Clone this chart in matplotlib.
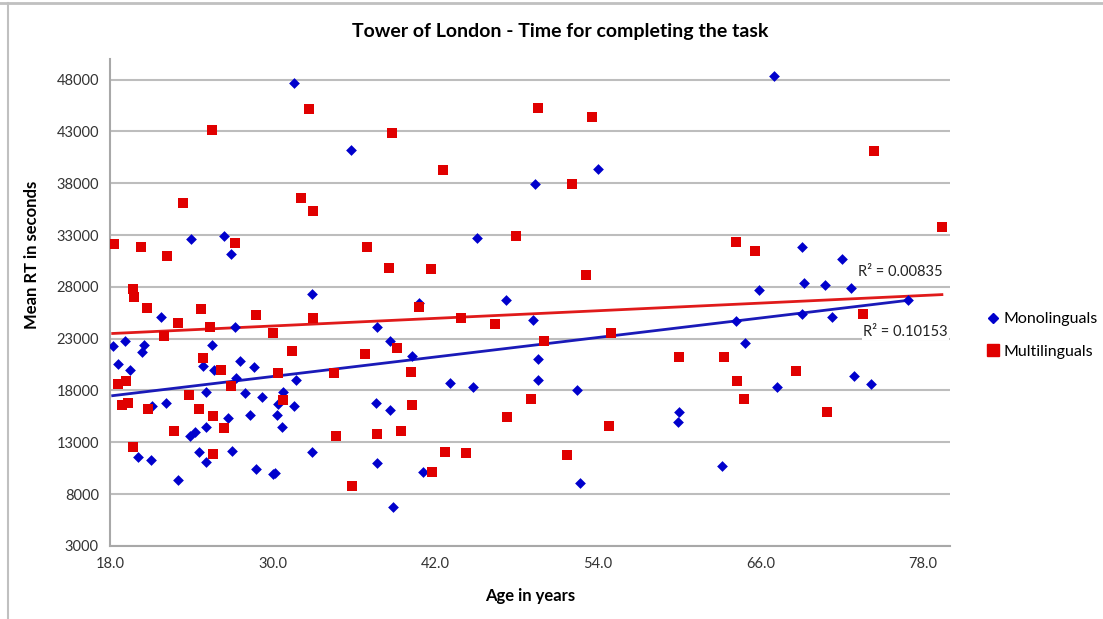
import numpy as np
import matplotlib
matplotlib.use('Agg')
import matplotlib.pyplot as plt
from matplotlib.lines import Line2D

plt.rcParams['font.family'] = ['Lato', 'DejaVu Sans']

# 單語者 (年齡, 平均反應時間)
mono_age = [31.6, 24.0, 26.4, 26.9, 32.9, 21.8, 27.2, 18.2, 19.1, 20.5,
            20.4, 25.5, 24.9, 18.6, 19.5, 25.7, 27.6, 28.6, 31.7, 27.3,
            25.1, 28.0, 29.2, 30.8, 30.4, 21.1, 22.1, 31.6, 26.7, 28.3,
            30.3, 30.7, 25.1, 24.3, 23.9, 20.1, 21.0, 24.6, 25.1, 27.0,
            32.9, 23.0, 28.8, 30.0, 30.2, 35.8, 45.1, 47.2, 40.8, 37.7,
            38.7, 40.3, 43.1, 44.8, 37.6, 38.7, 37.7, 41.1, 38.9, 54.0,
            49.4, 49.2, 49.6, 49.6, 52.5, 60.0, 59.9, 52.7, 63.2, 67.0,
            69.1, 72.0, 65.9, 69.2, 70.8, 72.7, 76.9, 69.1, 64.2, 71.3,
            64.9, 67.2, 72.9, 74.2]
mono_rt = [47700, 32600, 32900, 31200, 27300, 25100, 24100, 22300, 22800, 22400,
           21700, 22400, 20400, 20600, 20000, 20000, 20800, 20300, 19000, 19200,
           17900, 17800, 17400, 17900, 16700, 16500, 16800, 16500, 15300, 15600,
           15600, 14500, 14500, 14000, 13600, 11600, 11300, 12100, 11100, 12200,
           12100, 9400, 10400, 9900, 10000, 41200, 32700, 26700, 26400, 24100,
           22800, 21300, 18700, 18300, 16800, 16100, 11000, 10100, 6800, 39400,
           37900, 24800, 21000, 19000, 18000, 15900, 15000, 9100, 10700, 48300,
           31800, 30700, 27700, 28400, 28200, 27900, 26700, 25400, 24700, 25100,
           22600, 18300, 19400, 18600]

# 多語者 (年齡, 平均反應時間)
multi_age = [32.7, 25.5, 23.4, 32.1, 33.0, 27.2, 18.3, 20.3, 22.2, 19.7,
             19.8, 20.7, 24.7, 28.8, 23.0, 25.4, 33.0, 22.0, 30.0, 31.4,
             24.9, 26.2, 30.4, 18.6, 19.2, 26.9, 23.8, 30.8, 18.9, 19.3,
             20.8, 24.6, 25.6, 26.4, 22.7, 19.7, 25.6, 38.8, 42.6, 48.0,
             37.0, 38.6, 41.7, 40.8, 43.9, 46.4, 39.2, 36.8, 34.5, 40.2,
             40.3, 47.3, 34.7, 37.7, 39.5, 42.7, 44.3, 41.8, 35.9, 49.6,
             53.6, 52.1, 53.1, 50.0, 55.0, 60.0, 63.3, 49.1, 54.8, 51.7,
             74.4, 79.4, 64.2, 65.6, 73.6, 68.6, 64.3, 64.8, 70.9]
multi_rt = [45200, 43100, 36100, 36600, 35300, 32200, 32100, 31800, 31000, 27800,
            27000, 26000, 25900, 25300, 24500, 24100, 25000, 23300, 23500, 21800,
            21100, 20000, 19700, 18600, 18900, 18400, 17600, 17100, 16600, 16800,
            16200, 16200, 15500, 14400, 14100, 12500, 11900, 42800, 39300, 32900,
            31800, 29800, 29700, 26100, 25000, 24400, 22100, 21500, 19700, 19800,
            16600, 15400, 13600, 13800, 14100, 12100, 12000, 10100, 8800, 45300,
            44400, 37900, 29100, 22800, 23500, 21200, 21200, 17200, 14600, 11800,
            41100, 33800, 32300, 31500, 25400, 19900, 18900, 17200, 15900]

# 趨勢線端點
mono_trend_x = [18.2, 76.9]
mono_trend_y = [17500, 26700]
multi_trend_x = [18.2, 79.4]
multi_trend_y = [23500, 27250]

x_ticks = [18, 30, 42, 54, 66, 78]
y_ticks = list(range(3000, 48001, 5000))

blue = '#0000cc'
red = '#e00000'

fig = plt.figure(figsize=(11.03, 6.19), dpi=100)
ax = fig.add_axes([0.0997, 0.118, 0.7616, 0.787])

ax.scatter(mono_age, mono_rt, marker='D', s=30, color=blue, zorder=3, linewidths=0)
ax.scatter(multi_age, multi_rt, marker='s', s=62, color=red, zorder=3, linewidths=0)

ax.plot(mono_trend_x, mono_trend_y, color='#1a1ab8', lw=2, zorder=2)
ax.plot(multi_trend_x, multi_trend_y, color='#e01a1a', lw=2, zorder=2)

ax.text(73.2, 29400, 'R² = 0.00835', fontsize=10.5, va='center', ha='left', color='#222222', zorder=4)
ax.text(73.6, 23650, 'R² = 0.10153', fontsize=10.5, va='center', ha='left', color='#222222', zorder=4,
        bbox=dict(facecolor='white', edgecolor='none', pad=1))

ax.set_xlim(18, 80)
ax.set_ylim(3000, 50000)
ax.set_xticks(x_ticks)
ax.set_xticklabels([f'{t:.1f}' for t in x_ticks], fontsize=10.5, color='#333333')
ax.set_yticks(y_ticks)
ax.set_yticklabels([str(t) for t in y_ticks], fontsize=10.5, color='#333333')
ax.tick_params(length=0, pad=8)
ax.grid(axis='y', color='#bdbdbd', lw=1.5)
ax.set_axisbelow(True)
for s in ['top', 'right']:
    ax.spines[s].set_visible(False)
for s in ['left', 'bottom']:
    ax.spines[s].set_color('#a8a8a8')
    ax.spines[s].set_linewidth(1.5)

ax.set_xlabel('Age in years', fontsize=12, fontweight='bold', labelpad=12)
ax.set_ylabel('Mean RT in seconds', fontsize=12, fontweight='bold')
ax.yaxis.set_label_coords(-0.083, 0.598)
fig.text(0.508, 0.949, 'Tower of London - Time for completing the task',
         ha='center', va='center', fontsize=14, fontweight='bold')

handles = [Line2D([], [], marker='D', ls='', color=blue, ms=5.5),
           Line2D([], [], marker='s', ls='', color=red, ms=8)]
fig.legend(handles, ['Monolinguals', 'Multilinguals'], loc='upper left',
           bbox_to_anchor=(0.882, 0.519), frameon=False, fontsize=11.5,
           handlelength=0.7, handletextpad=0.3, labelspacing=1.15)

# 圖表外框
fig.add_artist(Line2D([0, 1], [0.995, 0.995], color='#c0c0c0', lw=2, transform=fig.transFigure))
fig.add_artist(Line2D([0.007, 0.007], [0, 0.995], color='#c0c0c0', lw=1.5, transform=fig.transFigure))

plt.savefig('out.png', dpi=100)
